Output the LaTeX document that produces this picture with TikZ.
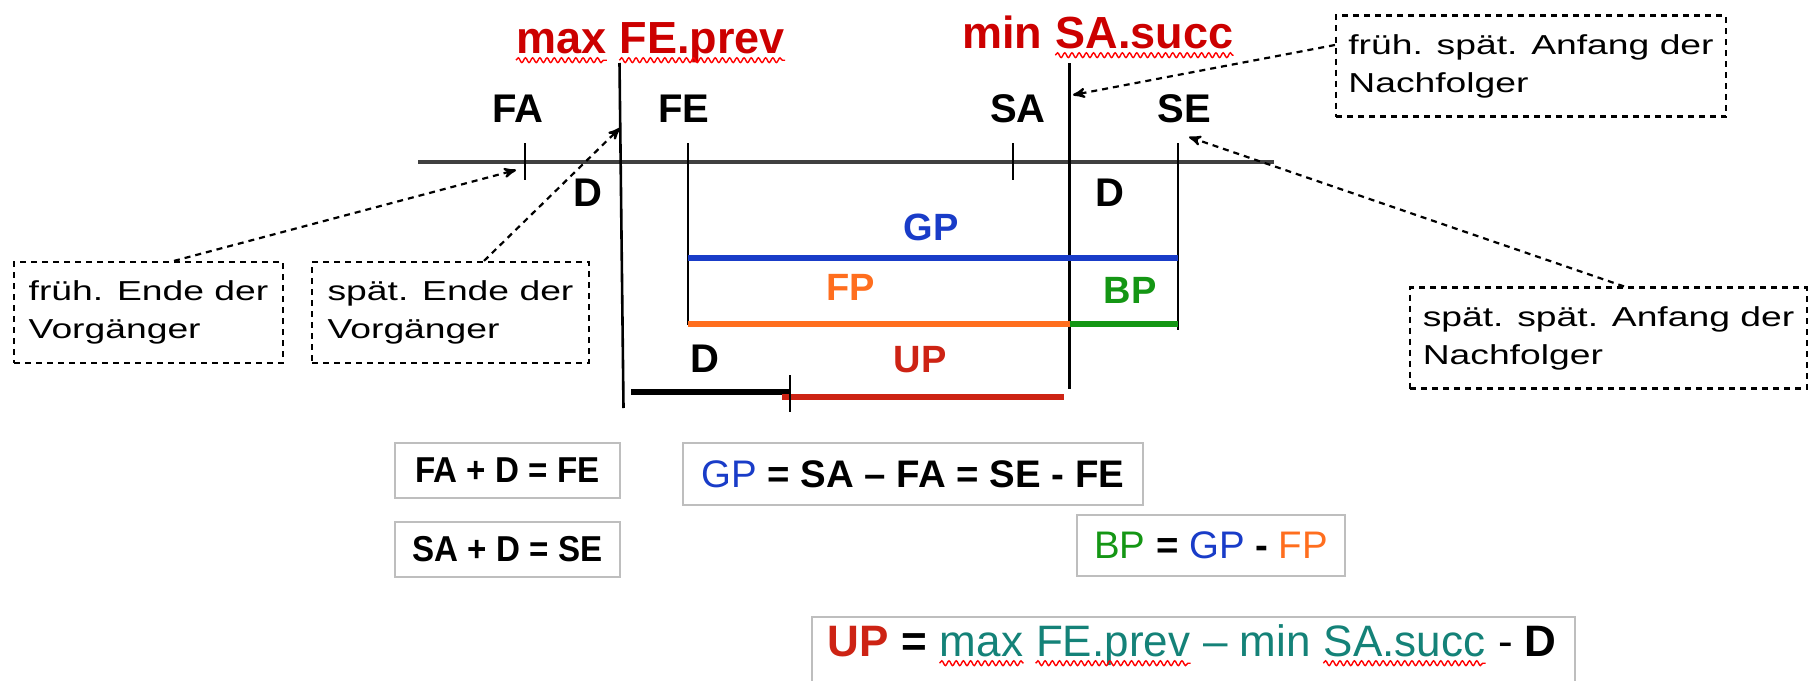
\documentclass[tikz,border=0pt]{standalone}
\usepackage{fontspec}
\setmainfont{Liberation Sans}
\newfontfamily\widefont{Liberation Sans}[FakeStretch=1.36]
\newfontfamily\narrowfont{Liberation Sans}[FakeStretch=0.92]
\usepackage{tikz}
\usetikzlibrary{arrows,positioning,decorations.pathmorphing}

\definecolor{titlered}{RGB}{204,0,0}
\definecolor{gpblue}{RGB}{25,60,200}
\definecolor{fporange}{RGB}{255,110,30}
\definecolor{bpgreen}{RGB}{20,150,20}
\definecolor{upred}{RGB}{205,35,20}
\definecolor{tealtext}{RGB}{20,130,120}
\definecolor{boxgray}{RGB}{190,190,190}

\tikzset{
  lbl/.style = {font=\bfseries\fontsize{20}{24}\selectfont, inner sep=0pt,
    anchor=base},
  headline/.style = {font=\bfseries\fontsize{22.5}{26}\selectfont,
    text=titlered, inner sep=0pt, anchor=base west},
  pname/.style = {font=\bfseries\fontsize{19}{22}\selectfont,
    inner sep=0pt, anchor=base},
  note/.style = {draw, line width=1.1pt, dash pattern=on 3pt off 2.5pt,
    align=left, minimum height=50.5pt, inner sep=0pt,
    font=\widefont\fontsize{13.7}{19}\selectfont},
  formbox/.style = {draw=boxgray, line width=0.8pt, fill=white,
    font=\bfseries, inner sep=0pt},
  eqpiece/.style = {inner sep=0pt, anchor=base west, text=tealtext,
    font=\fontsize{22}{26}\selectfont},
  callout/.style = {->, line width=1.1pt, dash pattern=on 3pt off 2.5pt},
  squiggle/.style = {red, line width=0.7pt, decorate,
    decoration={snake, amplitude=1.2pt, segment length=3.6pt}},
  timeaxis/.style = {line width=1.7pt, black!75},
  tickline/.style = {line width=1.3pt},
  bar/.style = {line width=2.8pt}
}

\begin{document}
\begin{tikzpicture}[x=0.5pt,y=-0.5pt,>=stealth']
  \useasboundingbox (0,0) rectangle (1809,680);

  % time axis with the four dates
  \coordinate (axL) at (418,162);
  \coordinate (axR) at (1274,162);
  \draw[timeaxis] (axL) -- (axR);
  \draw[tickline] (525,143) -- (525,180);
  \draw[tickline] (1013,143) -- (1013,180);
  \draw[tickline] (688,143) -- (688,325);
  \draw[tickline] (1178,143) -- (1178,330);
  \draw[tickline] (619.5,63) -- (623.5,408);
  \draw[tickline] (1069.5,63) -- (1069.5,389);

  \node[headline] (maxA) at (516,53) {max};
  \node[headline, base right=6.25pt of maxA] (prevA) {FE.prev};
  \node[headline] (minB) at (962,48) {min};
  \node[headline, base right=6.25pt of minB] (succB) {SA.succ};

  \node[lbl] (FA) at (518,122) {FA};
  \node[lbl] (FE) at (684,122) {FE};
  \node[lbl] (SA) at (1018,122) {SA};
  \node[lbl] (SE) at (1184,122) {SE};
  \node[lbl] (dLeft) at (588,206) {D};
  \node[lbl] (dRight) at (1110,206) {D};
  \node[lbl] (dLow) at (705,372) {D};

  % buffers
  \draw[bar, gpblue] (688,258) -- (1178,258);
  \draw[bar, fporange] (688,324) -- (1069.5,324);
  \draw[bar, bpgreen] (1069.5,324) -- (1178,324);
  \draw[bar, black] (631,392) -- (790,392);
  \draw[bar, upred] (782,397) -- (1064,397);
  \draw[tickline] (790,375) -- (790,412);

  \node[pname, text=gpblue] (GP) at (931,240) {GP};
  \node[pname, text=fporange] (FP) at (851,300) {FP};
  \node[pname, text=bpgreen] (BP) at (1130,303) {BP};
  \node[pname, text=upred] (UP) at (920,372) {UP};

  % explanations
  \node[note, minimum width=134.5pt] (vgFrueh) at (148.5,312.5)
    {früh. Ende der\\Vorgänger};
  \node[note, minimum width=138.5pt] (vgSpaet) at (450.5,312.5)
    {spät. Ende der\\Vorgänger};
  \node[note, minimum width=195pt] (nfFrueh) at (1531,66)
    {früh. spät. Anfang der\\Nachfolger};
  \node[note, minimum width=198.5pt] (nfSpaet) at (1608.5,338)
    {spät. spät. Anfang der\\Nachfolger};

  \coordinate (tipFA) at (516,170);
  \coordinate (tipMax) at (620,128);
  \coordinate (tipMin) at (1073,95);
  \coordinate (tipSE) at (1189,137);
  \draw[callout] ([xshift=12.75pt]vgFrueh.north) -- (tipFA);
  \draw[callout] ([xshift=16.75pt]vgSpaet.north) -- (tipMax);
  \draw[callout] ([yshift=10.5pt]nfFrueh.west) -- (tipMin);
  \draw[callout] ([xshift=7.75pt]nfSpaet.north) -- (tipSE);

  % formulas
  \node[formbox, minimum width=112.5pt, minimum height=27.5pt] (eqFE)
    at (507.5,470.5) {\narrowfont\fontsize{18}{21}\selectfont FA + D = FE};
  \node[formbox, minimum width=112.5pt, minimum height=27.5pt] (eqSE)
    at (507.5,549.5) {\narrowfont\fontsize{18}{21}\selectfont SA + D = SE};
  \node[formbox, minimum width=230pt, minimum height=31pt] (eqGP)
    at (913,474) {\fontsize{19.2}{22}\selectfont
      {\mdseries\color{gpblue}GP} = SA – FA = SE - FE};
  \node[formbox, minimum width=134pt, minimum height=30.5pt] (eqBP)
    at (1211,545.5) {\fontsize{19.2}{22}\selectfont\mdseries
      {\color{bpgreen}BP} \textbf{=} {\color{gpblue}GP} \textbf{-}
      {\color{fporange}FP}};
  \node[formbox, minimum width=381.5pt, minimum height=34pt, anchor=north]
    (eqUP) at (1193.5,616) {};
  \node[eqpiece, text=black] (upLead) at (827.5,656)
    {\bfseries{\color{upred}UP} =};
  \node[eqpiece, base right=6.1pt of upLead] (upMax) {max};
  \node[eqpiece, base right=6.1pt of upMax] (upPrev) {FE.prev};
  \node[eqpiece, base right=6.1pt of upPrev] (upMid) {– min};
  \node[eqpiece, base right=6.1pt of upMid] (upSucc) {SA.succ};
  \node[eqpiece, base right=6.1pt of upSucc, text=black] (upTail)
    {- \textbf{D}};

  % spelling marks under the words
  \foreach \w in {maxA,prevA,succB}
    \draw[squiggle] ([yshift=-3.6pt]\w.base west) -- ([yshift=-3.6pt]\w.base east);
  \foreach \w in {upMax,upPrev,upSucc}
    \draw[squiggle] ([yshift=-3.6pt]\w.base west) -- ([yshift=-3.6pt]\w.base east);
\end{tikzpicture}
\end{document}
